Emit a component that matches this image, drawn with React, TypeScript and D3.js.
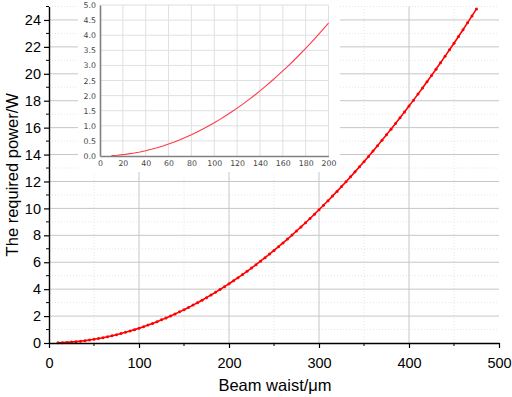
import React, { useEffect, useRef } from 'react';
import * as d3 from 'd3';

// beam waist samples (μm) and the power (W)
const waist = [
  10, 15, 20, 25, 30, 35, 40, 45, 50, 55, 60, 65, 70, 75, 80, 85, 90, 95, 100,
  105, 110, 115, 120, 125, 130, 135, 140, 145, 150, 155, 160, 165, 170, 175, 180, 185, 190, 195, 200,
  205, 210, 215, 220, 225, 230, 235, 240, 245, 250, 255, 260, 265, 270, 275, 280, 285, 290, 295, 300,
  305, 310, 315, 320, 325, 330, 335, 340, 345, 350, 355, 360, 365, 370, 375, 380, 385, 390, 395, 400,
  405, 410, 415, 420, 425, 430, 435, 440, 445, 450, 455, 460, 465, 470, 475,
];
const power = [
  0.011, 0.025, 0.044, 0.069, 0.099, 0.135, 0.176, 0.223, 0.275, 0.333, 0.396, 0.465, 0.539, 0.619, 0.704, 0.795, 0.891, 0.993, 1.10,
  1.213, 1.331, 1.455, 1.584, 1.719, 1.859, 2.005, 2.156, 2.313, 2.475, 2.643, 2.816, 2.995, 3.179, 3.369, 3.564, 3.765, 3.971, 4.183, 4.40,
  4.623, 4.851, 5.085, 5.324, 5.569, 5.819, 6.075, 6.336, 6.603, 6.875, 7.153, 7.436, 7.725, 8.019, 8.319, 8.624, 8.935, 9.251, 9.573, 9.90,
  10.233, 10.571, 10.915, 11.264, 11.619, 11.979, 12.345, 12.716, 13.093, 13.475, 13.863, 14.256, 14.655, 15.059, 15.469, 15.884, 16.305, 16.731, 17.163, 17.60,
  18.043, 18.491, 18.945, 19.404, 19.869, 20.339, 20.815, 21.296, 21.783, 22.275, 22.773, 23.276, 23.785, 24.299, 24.819,
];

const mainXTicks = [0, 100, 200, 300, 400, 500];
const mainYTicks = [0, 2, 4, 6, 8, 10, 12, 14, 16, 18, 20, 22, 24];
const insetXTicks = [0, 20, 40, 60, 80, 100, 120, 140, 160, 180, 200];
const insetYTicks = [0, 0.5, 1.0, 1.5, 2.0, 2.5, 3.0, 3.5, 4.0, 4.5, 5.0];

const App: React.FC = () => {
  const svgRef = useRef<SVGSVGElement | null>(null);

  useEffect(() => {
    if (!svgRef.current) return;
    const svg = d3.select(svgRef.current);
    svg.selectAll('*').remove();

    const font = 'Liberation Sans, Arial, sans-serif';
    const data = waist.map((w, i) => ({ w, p: power[i] }));

    // ---- main chart ----
    const x = d3.scaleLinear().domain([0, 500]).range([49, 499]);
    const y = d3.scaleLinear().domain([0, 25]).range([343, 6.5]);

    const grid = svg.append('g');
    // minor grid (faint, dotted)
    grid.selectAll('.mgx')
      .data(d3.range(50, 500, 100))
      .join('line')
      .attr('x1', d => x(d)).attr('x2', d => x(d))
      .attr('y1', y(0)).attr('y2', y(25))
      .attr('stroke', '#e6e6e6').attr('stroke-dasharray', '1,2');
    grid.selectAll('.mgy')
      .data(d3.range(1, 26, 2))
      .join('line')
      .attr('x1', x(0)).attr('x2', x(500))
      .attr('y1', d => y(d)).attr('y2', d => y(d))
      .attr('stroke', '#e6e6e6').attr('stroke-dasharray', '1,2');
    // major grid
    grid.selectAll('.gx')
      .data(mainXTicks.slice(1, -1))
      .join('line')
      .attr('x1', d => x(d)).attr('x2', d => x(d))
      .attr('y1', y(0)).attr('y2', y(25))
      .attr('stroke', '#c6c6c6');
    grid.selectAll('.gy')
      .data(mainYTicks.slice(1))
      .join('line')
      .attr('x1', x(0)).attr('x2', x(500))
      .attr('y1', d => y(d)).attr('y2', d => y(d))
      .attr('stroke', '#c6c6c6');

    // main curve
    const line = d3.line<{ w: number; p: number }>().x(d => x(d.w)).y(d => y(d.p));
    svg.append('path')
      .datum(data)
      .attr('d', line)
      .attr('fill', 'none')
      .attr('stroke', '#ff0000')
      .attr('stroke-width', 1.6);
    svg.append('g').selectAll('circle')
      .data(data)
      .join('circle')
      .attr('cx', d => x(d.w)).attr('cy', d => y(d.p))
      .attr('r', 1.5).attr('fill', '#ff0000');

    // axes
    const xAxis = svg.append('g').attr('transform', `translate(0,${y(0)})`)
      .call(d3.axisBottom(x).tickValues(mainXTicks).tickSize(5).tickSizeOuter(0));
    xAxis.append('g').selectAll('line')
      .data(d3.range(50, 500, 100))
      .join('line')
      .attr('x1', d => x(d)).attr('x2', d => x(d))
      .attr('y1', 0).attr('y2', 3).attr('stroke', '#000');
    const yAxis = svg.append('g').attr('transform', `translate(${x(0)},0)`)
      .call(d3.axisLeft(y).tickValues(mainYTicks).tickSize(5).tickSizeOuter(0));
    yAxis.append('g').selectAll('line')
      .data(d3.range(1, 26, 2))
      .join('line')
      .attr('y1', d => y(d)).attr('y2', d => y(d))
      .attr('x1', 0).attr('x2', -3).attr('stroke', '#000');
    [xAxis, yAxis].forEach(g => {
      g.select('.domain').attr('stroke', '#000').attr('stroke-width', 1.4);
      g.selectAll('.tick line').attr('stroke', '#000').attr('stroke-width', 1.2);
      g.selectAll('.tick text')
        .attr('font-family', font).attr('font-size', 14.5).attr('fill', '#000');
    });
    xAxis.selectAll('.tick text').attr('dy', '1.2em');
    yAxis.selectAll('.tick text').attr('x', -8);

    svg.append('text')
      .attr('x', 275).attr('y', 391)
      .attr('text-anchor', 'middle')
      .attr('font-family', font).attr('font-size', 16.5)
      .text('Beam waist/μm');
    svg.append('text')
      .attr('transform', `translate(18,${(y(0) + y(25)) / 2}) rotate(-90)`)
      .attr('text-anchor', 'middle')
      .attr('font-family', font).attr('font-size', 16.5)
      .text('The required power/W');

    // ---- inset ----
    const inset = svg.append('g');
    inset.append('rect')
      .attr('x', 78).attr('y', 0).attr('width', 262).attr('height', 172)
      .attr('fill', '#fff');
    const ix = d3.scaleLinear().domain([0, 200]).range([100, 328.5]);
    const iy = d3.scaleLinear().domain([0, 5]).range([156, 5]);

    inset.selectAll('.igx')
      .data(insetXTicks.slice(1))
      .join('line')
      .attr('x1', d => ix(d)).attr('x2', d => ix(d))
      .attr('y1', iy(0)).attr('y2', iy(5))
      .attr('stroke', '#e0e0e0');
    inset.selectAll('.igy')
      .data(insetYTicks.slice(1))
      .join('line')
      .attr('x1', ix(0)).attr('x2', ix(200))
      .attr('y1', d => iy(d)).attr('y2', d => iy(d))
      .attr('stroke', '#e0e0e0');

    inset.append('path')
      .datum(data.filter(d => d.w <= 200))
      .attr('d', d3.line<{ w: number; p: number }>().x(d => ix(d.w)).y(d => iy(d.p)))
      .attr('fill', 'none')
      .attr('stroke', '#ff3848')
      .attr('stroke-width', 1.1);

    const ixAxis = inset.append('g').attr('transform', `translate(0,${iy(0)})`)
      .call(d3.axisBottom(ix).tickValues(insetXTicks).tickSize(0).tickPadding(4)
        .tickFormat(d3.format('d')));
    const iyAxis = inset.append('g').attr('transform', `translate(${ix(0)},0)`)
      .call(d3.axisLeft(iy).tickValues(insetYTicks).tickSize(0).tickPadding(4)
        .tickFormat(d3.format('.1f')));
    [ixAxis, iyAxis].forEach(g => {
      g.select('.domain').attr('stroke', '#808080').attr('stroke-width', 1.6);
      g.selectAll('.tick text')
        .attr('font-family', 'DejaVu Sans, sans-serif').attr('font-size', 7.8).attr('fill', '#444');
    });
  }, []);

  return (
    <svg
      ref={svgRef}
      width={512}
      height={397}
      style={{ position: 'absolute', left: 0, top: 0, background: '#fff' }}
    />
  );
};

export default App;
